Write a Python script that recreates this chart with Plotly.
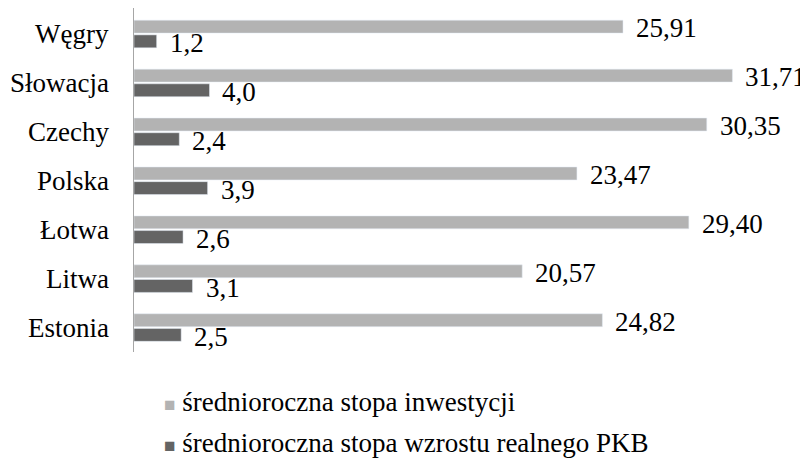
import plotly.graph_objects as go

categories = ["Węgry", "Słowacja", "Czechy", "Polska", "Łotwa", "Litwa", "Estonia"]
investment = [25.91, 31.71, 30.35, 23.47, 29.40, 20.57, 24.82]
gdp_growth = [1.2, 4.0, 2.4, 3.9, 2.6, 3.1, 2.5]
inv_labels = ["25,91", "31,71", "30,35", "23,47", "29,40", "20,57", "24,82"]
gdp_labels = ["1,2", "4,0", "2,4", "3,9", "2,6", "3,1", "2,5"]
series_names = ["średnioroczna stopa inwestycji", "średnioroczna stopa wzrostu realnego PKB"]
series_colors = ["#B3B3B3", "#646464"]

FONT = "Liberation Serif"
FS = 27


def black(t):
    return f'<span style="color:#000000">{t}</span>'


fig = go.Figure()
fig.add_trace(go.Bar(
    y=categories, x=investment, orientation="h", name=series_names[0],
    marker=dict(color=series_colors[0]), showlegend=False,
))
fig.add_trace(go.Bar(
    y=categories, x=gdp_growth, orientation="h", name=series_names[1],
    marker=dict(color=series_colors[1]), showlegend=False,
))

font = dict(family=FONT, size=FS)

# category labels
for c in categories:
    fig.add_annotation(x=0, xref="paper", y=c, yref="y", text=black(c), showarrow=False,
                       xanchor="right", yanchor="middle", xshift=-23, font=font)

# value labels
for c, v, t in zip(categories, investment, inv_labels):
    fig.add_annotation(x=v, y=c, text=black(t), showarrow=False, xanchor="left",
                       yanchor="middle", xshift=11, yshift=6, font=font)
for c, v, t in zip(categories, gdp_growth, gdp_labels):
    fig.add_annotation(x=v, y=c, text=black(t), showarrow=False, xanchor="left",
                       yanchor="middle", xshift=11, yshift=-9, font=font)

# legend entries
legend_y = [-0.145, -0.265]
for name, col, ly in zip(series_names, series_colors, legend_y):
    fig.add_annotation(
        x=0.0447, xref="paper", y=ly, yref="paper", showarrow=False,
        xanchor="left", yanchor="middle", font=font,
        text=f'<span style="font-size:19px;color:{col}">■</span> {black(name)}',
    )

fig.update_layout(
    width=800, height=451,
    margin=dict(l=126, r=48, t=0, b=107, pad=0, autoexpand=False),
    barmode="group", bargap=0.4, bargroupgap=0.12,
    paper_bgcolor="white", plot_bgcolor="white",
    showlegend=False,
    xaxis=dict(range=[0, 33.17], showgrid=False, zeroline=False,
               showticklabels=False, ticks="", showline=False, automargin=False),
    yaxis=dict(autorange="reversed", showgrid=False, zeroline=False,
               showline=True, linecolor="#A6A6A6", linewidth=1,
               ticks="", showticklabels=False, automargin=False),
)

fig.write_html("out.html")
